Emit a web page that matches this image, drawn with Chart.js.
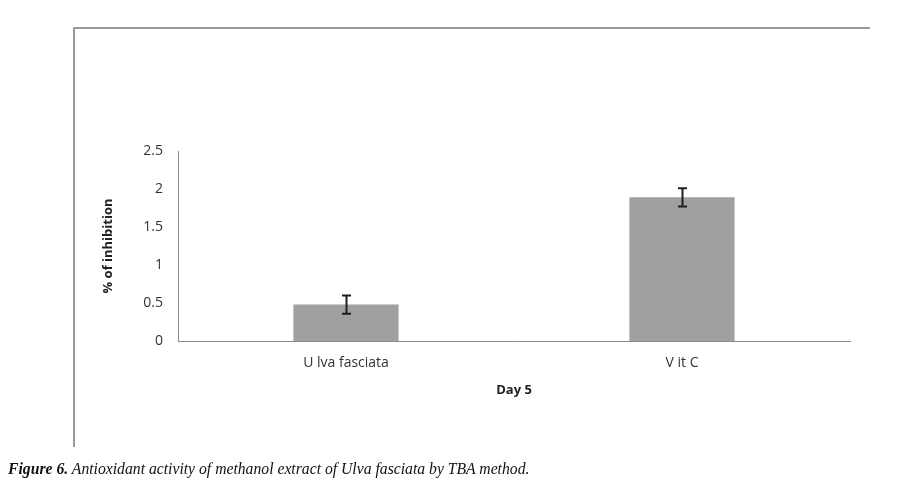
<!DOCTYPE html>
<html>
<head>
<meta charset="utf-8">
<script src="https://cdn.jsdelivr.net/npm/chart.js@4.4.1/dist/chart.umd.min.js"></script>
<style>
  html, body { margin: 0; padding: 0; background: #fff; }
  #wrap { position: relative; width: 907px; height: 487px; overflow: hidden; }
  #frame {
    position: absolute; left: 73px; top: 27px; width: 797px; height: 420px;
    border-left: 2px solid #9d979f; border-top: 2px solid #9d979f;
    box-sizing: border-box;
  }
  #chartBox { position: absolute; left: 0; top: 0; width: 907px; height: 487px; }
  #caption {
    position: absolute; left: 8px; top: 460px;
    font-family: "Liberation Serif", "DejaVu Serif", serif;
    font-style: italic; font-size: 15.7px; color: #111; white-space: nowrap;
  }
  #caption b { font-weight: bold; }
</style>
</head>
<body>
<div id="wrap">
  <div id="frame"></div>
  <div id="chartBox"><canvas id="chart"></canvas></div>
  <div id="caption"><b>Figure 6.</b> Antioxidant activity of methanol extract of Ulva fasciata by TBA method.</div>
</div>
<script>
const categories = ["U lva fasciata", "V it C"];
const inhibition = [0.48, 1.89];
const errors = [0.12, 0.12];
const yTicks = [0, 0.5, 1, 1.5, 2, 2.5];
const yTickLabels = ["0", "0.5", "1", "1.5", "2", "2.5"];

const tickFont = { family: "'Open Sans', 'Liberation Sans', sans-serif", size: 14 };
const titleFont = { family: "'Open Sans', 'Liberation Sans', sans-serif", size: 13, weight: "bold" };

// draws the error bars from the y scale of the chart
const errorBars = {
  id: "errorBars",
  afterDatasetsDraw(chart) {
    const ctx = chart.ctx;
    const yScale = chart.scales.y;
    const meta = chart.getDatasetMeta(0);
    ctx.save();
    ctx.strokeStyle = "#1e1e1e";
    ctx.lineWidth = 2;
    meta.data.forEach((bar, i) => {
      const x = Math.round(bar.x) + 0.5;
      const top = yScale.getPixelForValue(inhibition[i] + errors[i]);
      const bottom = yScale.getPixelForValue(inhibition[i] - errors[i]);
      ctx.beginPath();
      ctx.moveTo(x, top);
      ctx.lineTo(x, bottom);
      ctx.moveTo(x - 4.5, top);
      ctx.lineTo(x + 4.5, top);
      ctx.moveTo(x - 4.5, bottom);
      ctx.lineTo(x + 4.5, bottom);
      ctx.stroke();
    });
    ctx.restore();
  },
};

new Chart(document.getElementById("chart"), {
  type: "bar",
  data: {
    labels: categories,
    datasets: [
      {
        data: inhibition,
        backgroundColor: "#a29fa2",
        borderWidth: 0,
        barPercentage: 0.313,
        categoryPercentage: 1,
      },
    ],
  },
  options: {
    responsive: true,
    maintainAspectRatio: false,
    animation: false,
    layout: { padding: { left: 90, right: 57, top: 151, bottom: 86 } },
    plugins: { legend: { display: false }, tooltip: { enabled: false } },
    scales: {
      x: {
        grid: { display: false, drawTicks: false },
        border: { display: true, color: "#8e8a8e", width: 1 },
        ticks: { color: "#333", font: tickFont, padding: 14 },
        title: {
          display: true,
          text: "Day 5",
          color: "#222",
          font: titleFont,
          padding: { top: 0, bottom: 3 },
        },
        afterFit(scale) {
          scale.height = 60;
        },
      },
      y: {
        min: 0,
        max: 2.5,
        afterBuildTicks(scale) {
          scale.ticks = yTicks.map((v) => ({ value: v }));
        },
        grid: { display: false, drawTicks: false },
        border: { display: true, color: "#8e8a8e", width: 1 },
        ticks: {
          color: "#333",
          font: tickFont,
          padding: 15,
          callback: (value, index) => yTickLabels[index],
        },
        title: {
          display: true,
          text: "% of inhibition",
          color: "#222",
          font: titleFont,
          padding: { top: 10, bottom: 0 },
        },
        afterFit(scale) {
          scale.width = 88;
        },
      },
    },
  },
  plugins: [errorBars],
});
</script>
</body>
</html>
